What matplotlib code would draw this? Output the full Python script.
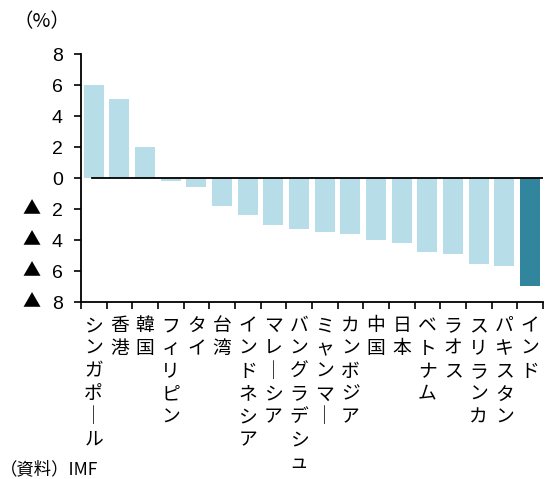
import matplotlib
matplotlib.use("Agg")
import matplotlib.pyplot as plt
from matplotlib import transforms

num_font = ['Liberation Sans', 'DejaVu Sans']
jp_font = ['Noto Sans CJK JP', 'DejaVu Sans']

categories = ['シンガポール', '香港', '韓国', 'フィリピン', 'タイ', '台湾', 'インドネシア',
              'マレーシア', 'バングラデシュ', 'ミャンマー', 'カンボジア', '中国', '日本',
              'ベトナム', 'ラオス', 'スリランカ', 'パキスタン', 'インド']
values = [6.0, 5.1, 2.0, -0.2, -0.6, -1.8, -2.4, -3.0, -3.3, -3.5, -3.6, -4.0, -4.2,
          -4.75, -4.9, -5.55, -5.7, -6.95]
yticks = [8, 6, 4, 2, 0, -2, -4, -6, -8]
ytick_labels = ['8', '6', '4', '2', '0', '2', '4', '6', '8']

light = '#b7dee8'
dark = '#31859c'
colors = [light] * (len(values) - 1) + [dark]

fig = plt.figure(figsize=(5.5, 4.79), dpi=100)
ax = fig.add_axes([0.147, 0.3695, 0.84, 0.5175])

x = list(range(len(values)))
ax.bar(x, values, width=0.78, color=colors, edgecolor='none', zorder=2)
ax.axhline(0, xmin=0.024, xmax=1.0, color='black', lw=1.3, zorder=3)

ax.set_xlim(-0.5, len(values) - 0.5)
ax.set_ylim(-8, 8)
ax.set_yticks(yticks)
ax.set_yticklabels(ytick_labels, family=num_font, fontsize=14)
ax.set_xticks([i - 0.5 for i in range(len(values) + 1)])
ax.set_xticklabels([])
ax.tick_params(axis='x', direction='out', length=5, width=1.2)
ax.tick_params(axis='y', direction='out', length=5, width=1.2, pad=8)
for s in ['top', 'right']:
    ax.spines[s].set_visible(False)
for s in ['left', 'bottom']:
    ax.spines[s].set_linewidth(1.3)

# negative markers (▲) to the left of negative tick values
trans = transforms.blended_transform_factory(fig.transFigure, ax.transData)
for t in yticks:
    if t < 0:
        ax.text(0.058, t, '▲', transform=trans, ha='center', va='center',
                fontsize=13, family=jp_font, clip_on=False)

for i, lab in enumerate(categories):
    vert = '\n'.join(ch if ch != 'ー' else '│' for ch in lab)
    ax.text(i, -8.85, vert, ha='center', va='top', fontsize=13.5, family=jp_font,
            linespacing=1.11)

fig.text(0.025, 0.955, '（%）', fontsize=14, family=jp_font, va='center', ha='left')
fig.text(0.0, 0.02, '（資料）IMF', fontsize=12.5, family=jp_font, va='center', ha='left')

fig.savefig('out.png', dpi=100)
